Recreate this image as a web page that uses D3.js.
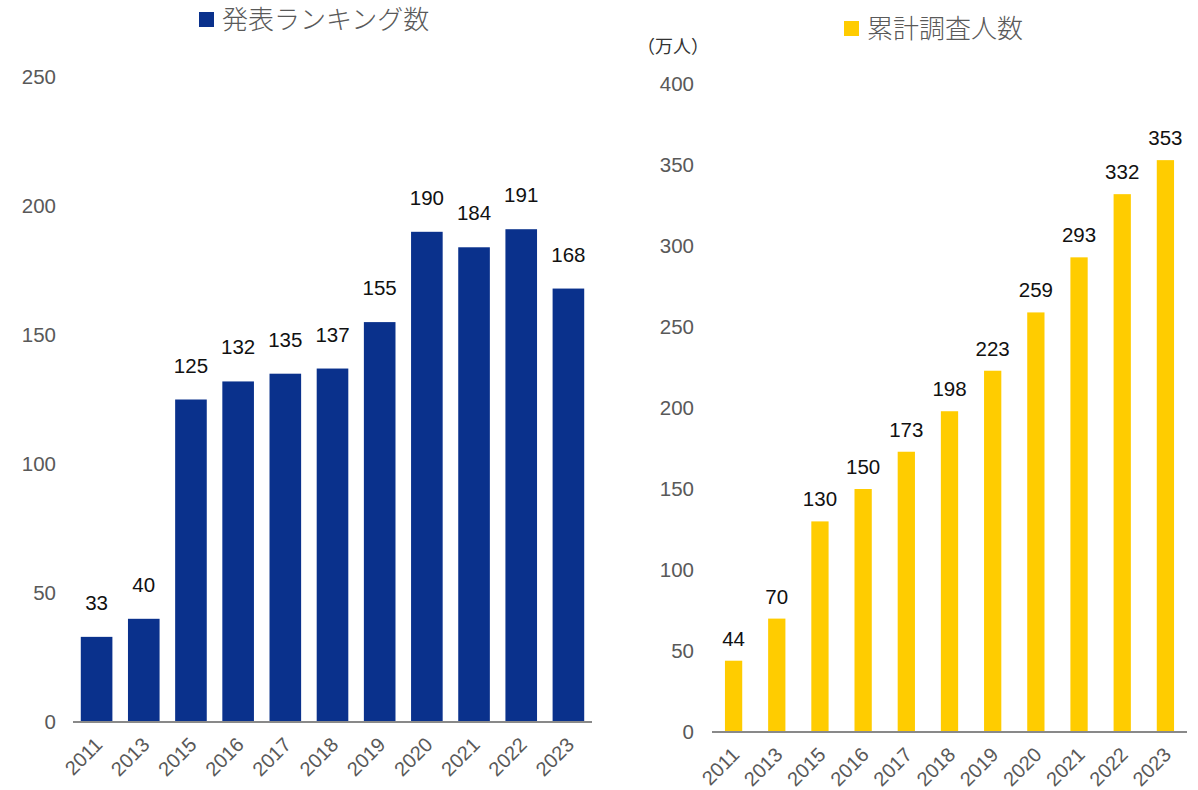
<!DOCTYPE html>
<html>
<head>
<meta charset="utf-8">
<script src="https://cdn.jsdelivr.net/npm/d3@7"></script>
<style>
  body { margin: 0; background: #fff; }
  svg text { font-family: "Liberation Sans", Arial, sans-serif; }
  .jp { font-family: "Noto Sans CJK JP", "Noto Sans", sans-serif; }
</style>
</head>
<body>
<div id="container"></div>
<script>
/* DATA */
const years = ["2011", "2013", "2015", "2016", "2017", "2018", "2019", "2020", "2021", "2022", "2023"];
const rankingCounts = [33, 40, 125, 132, 135, 137, 155, 190, 184, 191, 168];
const surveyPeople = [44, 70, 130, 150, 173, 198, 223, 259, 293, 332, 353];
const leftTicks = [0, 50, 100, 150, 200, 250];
const rightTicks = [0, 50, 100, 150, 200, 250, 300, 350, 400];

/* CONSTANTS */
const width = 1198;
const height = 790;
const navy = "#0a318c";
const yellow = "#ffcc00";
const gray = "#595959";

const svg = d3.select("#container")
  .append("svg")
  .attr("width", width)
  .attr("height", height)

// one panel = legend + y labels + bars + value labels + x labels
function drawPanel(opt) {
  const xScale = d3.scaleBand()
    .domain(years)
    .range(opt.xRange)
    .paddingInner(opt.pad)
    .paddingOuter(opt.pad / 2)

  const yScale = d3.scaleLinear()
    .domain([0, opt.yMax])
    .range(opt.yRange)

  const g = svg.append("g")

  // y tick labels (no axis line in the original)
  const yAxis = d3.axisLeft(yScale)
    .tickValues(opt.ticks)
    .tickSize(0)
    .tickPadding(0)
  g.append("g")
    .attr("transform", `translate(${opt.yLabelX},0)`)
    .call(yAxis)
    .call(a => a.select(".domain").remove())
    .selectAll("text")
    .attr("fill", gray)
    .attr("font-size", 20.5)
    .attr("font-family", "Liberation Sans, Arial, sans-serif")

  // bars
  g.selectAll("rect.bar")
    .data(opt.values)
    .join("rect")
    .attr("class", "bar")
    .attr("x", (d, i) => xScale(years[i]))
    .attr("y", d => yScale(d))
    .attr("width", xScale.bandwidth())
    .attr("height", d => yScale(0) - yScale(d))
    .attr("fill", opt.color)

  // value labels
  g.selectAll("text.val")
    .data(opt.values)
    .join("text")
    .attr("class", "val")
    .attr("x", (d, i) => xScale(years[i]) + xScale.bandwidth() / 2)
    .attr("y", d => yScale(d) - opt.labelGap)
    .attr("text-anchor", "middle")
    .attr("font-size", 20.5)
    .attr("fill", "#111")
    .text(d => d)

  // x axis
  const xAxis = d3.axisBottom(xScale).tickSize(0).tickPadding(0)
  const xg = g.append("g")
    .attr("transform", `translate(0,${yScale(0)})`)
    .call(xAxis)
  xg.select(".domain")
    .attr("stroke", "#898989")
    .attr("stroke-width", 2)
    .attr("d", `M${opt.xRange[0]},0H${opt.xRange[1]}`)
  xg.selectAll("text")
    .attr("font-size", 20)
    .attr("font-family", "Liberation Sans, Arial, sans-serif")
    .attr("fill", gray)
    .attr("text-anchor", "end")
    .attr("dy", 0)
    .attr("transform", "translate(7,24) rotate(-45)")

  // legend
  const lg = g.append("g").attr("transform", `translate(${opt.legendX},${opt.legendY})`)
  lg.append("rect")
    .attr("x", 0).attr("y", -8)
    .attr("width", 15).attr("height", 15)
    .attr("fill", opt.color)
  lg.append("text")
    .attr("class", "jp")
    .attr("x", 23)
    .attr("y", 9)
    .attr("font-size", 26)
    .attr("font-weight", 300)
    .attr("fill", gray)
    .text(opt.legend)

  return g
}

drawPanel({
  values: rankingCounts,
  color: navy,
  xRange: [73, 592],
  pad: 0.33,
  yMax: 250,
  yRange: [722, 77],
  ticks: leftTicks,
  yLabelX: 56,
  labelGap: 27,
  legendX: 199,
  legendY: 20,
  legend: "発表ランキング数"
})

const right = drawPanel({
  values: surveyPeople,
  color: yellow,
  xRange: [712, 1187],
  pad: 0.6,
  yMax: 400,
  yRange: [732, 84],
  ticks: rightTicks,
  yLabelX: 694,
  labelGap: 15,
  legendX: 844,
  legendY: 29,
  legend: "累計調査人数"
})

// unit label
right.append("text")
  .attr("class", "jp")
  .attr("x", 637)
  .attr("y", 53)
  .attr("font-size", 18)
  .attr("fill", "#333")
  .text("（万人）")
</script>
</body>
</html>
